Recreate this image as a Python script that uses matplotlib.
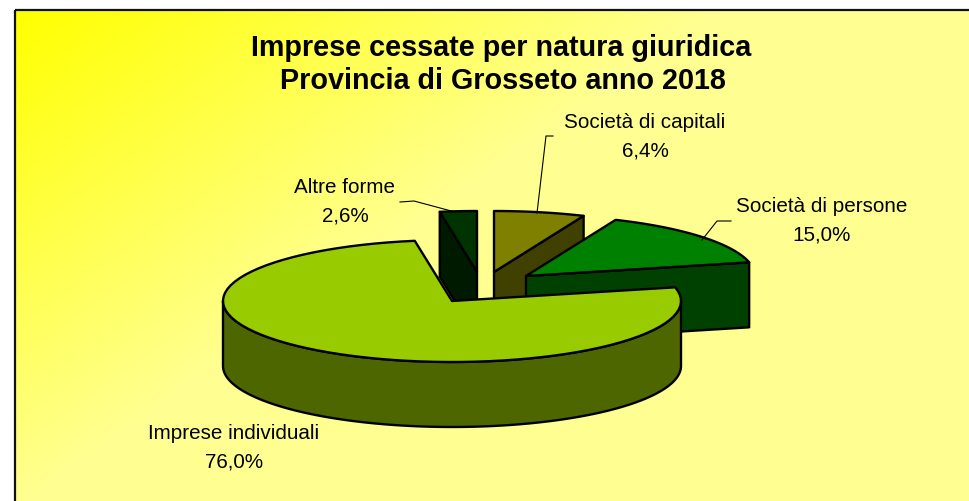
import numpy as np
import matplotlib
matplotlib.use("Agg")
import matplotlib.pyplot as plt
from matplotlib.patches import Polygon, Rectangle

plt.rcParams['font.family'] = ['Liberation Sans', 'DejaVu Sans']

title_lines = ["Imprese cessate per natura giuridica", "Provincia di Grosseto anno 2018"]
# clockwise from the first slice behind the big one
labels = ["Altre forme", "Società di capitali", "Società di persone", "Imprese individuali"]
values = [2.6, 6.4, 15.0, 76.0]

top_colors = ["#003300", "#808000", "#008000", "#99CC00"]
side_colors = ["#001A00", "#404000", "#004000", "#4D6600"]

W, H = 969, 502
# the whole chart is laid out in picture pixels
a, b, depth = 229.0, 61.0, 65.0
apex = [(477, 273), (494, 273), (526, 277), (452, 302)]


def arc(cx, cy, t1, t2, n=80):
    t = np.radians(np.linspace(t1, t2, n))
    return np.column_stack([cx + a * np.cos(t), cy - b * np.sin(t)])


def face(ax, pts, color, z):
    ax.add_patch(Polygon(pts, closed=True, facecolor=color, edgecolor="black",
                         linewidth=1.7, joinstyle="round", zorder=z))


fig = plt.figure(figsize=(W / 100, H / 100), dpi=100, facecolor="white")
ax = fig.add_axes([0, 0, 1, 1])
ax.set_xlim(0, W)
ax.set_ylim(H, 0)
ax.axis("off")

# background gradient, strong yellow in the top left corner
xx, yy = np.meshgrid(np.linspace(0, W - 15, 300), np.linspace(0, H - 11, 160))
g = np.clip(xx / 700 + yy / 500, 0, 1)
img = np.dstack([np.ones_like(g), np.ones_like(g), g * 0.57])
ax.imshow(img, extent=[15, W, H, 11], aspect="auto", zorder=0, interpolation="bilinear")
ax.set_xlim(0, W)
ax.set_ylim(H, 0)
ax.add_patch(Rectangle((15, 11), W, H, fill=False, edgecolor="#111111", linewidth=1.6, zorder=1))

# angles of each slice, going clockwise; the first cut falls on 12 o'clock
spans = np.array(values) / sum(values) * 360
start = 90 + spans[0]
ends = start - np.cumsum(spans)
starts = ends + spans

for i in range(4):
    cx, cy = apex[i]
    t1, t2 = starts[i], ends[i]
    z = 3 + i
    rim = arc(cx, cy, t1, t2)
    if i == 3:
        # big slice: outer wall in front, from the right side to the left side
        wall_top = arc(cx, cy, 0, -180, 160)
        wall_bot = wall_top + [0, depth]
        face(ax, np.vstack([wall_top, wall_bot[::-1]]), side_colors[i], z)
    else:
        # cut wall on the visible side of the slice
        edge = rim[0] if i == 0 else rim[-1]
        wall = [(cx, cy), edge, edge + [0, depth], (cx, cy + depth)]
        face(ax, wall, side_colors[i], z)
    face(ax, np.vstack([[(cx, cy)], rim]), top_colors[i], z + 0.5)

ax.text(501, 48, title_lines[0], ha="center", va="center", fontsize=20.7, fontweight="bold", zorder=10)
ax.text(503, 81, title_lines[1], ha="center", va="center", fontsize=20.7, fontweight="bold", zorder=10)

label_pos = [(345, 188), (645, 123), (822, 207), (234, 434)]
for name, val, (x, y) in zip(labels, values, label_pos):
    ax.text(x, y, name, ha="center", va="center", fontsize=14.9, zorder=10)
    ax.text(x, y + 28, f"{val:.1f}%".replace(".", ","), ha="center", va="center", fontsize=14.9, zorder=10)

# leader lines
leaders = [
    [(400, 203), (414, 202), (455, 213)],
    [(553, 137), (546, 137), (537, 214)],
    [(731, 222), (717, 222), (702, 241)],
]
for line in leaders:
    xs, ys = zip(*line)
    ax.plot(xs, ys, color="black", linewidth=0.8, zorder=9)

fig.savefig("out.png", dpi=100)
